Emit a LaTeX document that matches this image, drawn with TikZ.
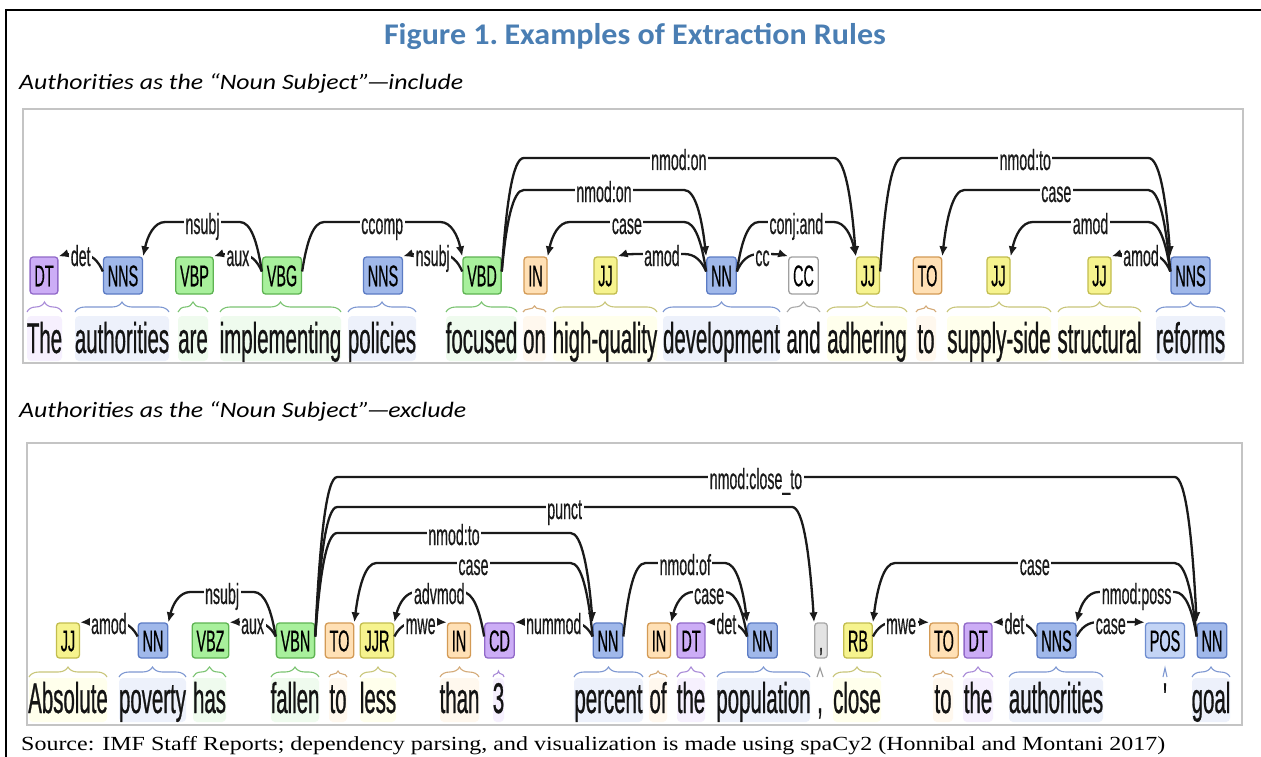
\documentclass[tikz,border=0pt]{standalone}
\usepackage{fontspec}
\usepackage{graphicx}
\usetikzlibrary{arrows.meta,calc,decorations.pathreplacing}

% condensed sans for the parse display
\newfontfamily\wordfont[FakeStretch=0.475,FakeBold=0.6]{Liberation Sans}
\newfontfamily\tagfont[FakeStretch=0.48,FakeBold=0.4]{Liberation Sans}
\newfontfamily\labfont[FakeStretch=0.49,FakeBold=0.4]{Liberation Sans}
\newfontfamily\headfont{Carlito}
\newfontfamily\notefont{Liberation Serif}

\definecolor{titleblue}{HTML}{4A7EB3}
\definecolor{panelgray}{HTML}{C4C4C4}
\definecolor{arcink}{HTML}{1A1A1A}
% part-of-speech colours: tag fill, tag outline, brace, word background
\definecolor{nnfillc}{HTML}{A0B8EA}\definecolor{nnlinec}{HTML}{5B7BC4}\definecolor{nnbrc}{HTML}{7E98D2}\definecolor{nnbgc}{HTML}{EDF1FB}
\definecolor{vbfillc}{HTML}{A8F09C}\definecolor{vblinec}{HTML}{5EB352}\definecolor{vbbrc}{HTML}{7CC472}\definecolor{vbbgc}{HTML}{EFFBEE}
\definecolor{dtfillc}{HTML}{CCADF6}\definecolor{dtlinec}{HTML}{9169C9}\definecolor{dtbrc}{HTML}{A98BD8}\definecolor{dtbgc}{HTML}{F6F0FE}
\definecolor{infillc}{HTML}{FFE0B5}\definecolor{inlinec}{HTML}{D39A55}\definecolor{inbrc}{HTML}{D4AA78}\definecolor{inbgc}{HTML}{FFF8EE}
\definecolor{jjfillc}{HTML}{F6F38E}\definecolor{jjlinec}{HTML}{C2BD4E}\definecolor{jjbrc}{HTML}{C9C67A}\definecolor{jjbgc}{HTML}{FFFFEC}
\definecolor{ccfillc}{HTML}{FFFFFF}\definecolor{cclinec}{HTML}{A0A0A0}\definecolor{ccbrc}{HTML}{A8A8A8}\definecolor{ccbgc}{HTML}{FFFFFF}
\definecolor{pufillc}{HTML}{E3E3E3}\definecolor{pulinec}{HTML}{A8A8A8}\definecolor{pubrc}{HTML}{9A9A9A}\definecolor{pubgc}{HTML}{FFFFFF}
\definecolor{posfillc}{HTML}{C3D4F5}\definecolor{poslinec}{HTML}{6D8CCF}\definecolor{posbrc}{HTML}{7E98D2}\definecolor{posbgc}{HTML}{FFFFFF}

% stretch a piece of text horizontally to a given width (in pt)
\newsavebox\fitbox
\newlength\fitlen
\newcommand\fitwidth[2]{\sbox\fitbox{#2}\setlength\fitlen{\wd\fitbox}%
  \pgfmathsetmacro\fitscale{#1/\fitlen}\scalebox{\fitscale}[1]{\usebox\fitbox}}

\tikzset{
  tag/.style={rounded corners=3pt, line width=1.3pt,
    font=\tagfont\fontsize{30}{30}\selectfont, inner xsep=4.3pt, inner ysep=0pt,
    text height=21.5pt, text depth=0pt, text=black},
  word/.style={font=\wordfont\fontsize{43}{43}\selectfont, anchor=base,
    inner sep=0pt, text=black!92},
  deparrow/.style={draw=arcink, line width=2.3pt, -{Latex[length=10pt,width=8.5pt]}},
  deplabel/.style={fill=white, inner xsep=1.5pt, inner ysep=1.5pt,
    font=\labfont\fontsize{29}{29}\selectfont, text=arcink, anchor=base, yshift=-12pt},
  panelframe/.style={draw=panelgray, line width=2pt},
  curly/.style={decorate, decoration={brace, amplitude=10pt}},
  smallcurly/.style={decorate, decoration={brace, amplitude=6pt}},
  caret/.style={to path={-- ($(\tikztostart)!0.5!(\tikztotarget)+(0,9pt)$) -- (\tikztotarget)}},
  nntag/.style={fill=nnfillc, draw=nnlinec}, nnbr/.style={draw=nnbrc, line width=1.1pt}, nnbg/.style={fill=nnbgc},
  vbtag/.style={fill=vbfillc, draw=vblinec}, vbbr/.style={draw=vbbrc, line width=1.1pt}, vbbg/.style={fill=vbbgc},
  dttag/.style={fill=dtfillc, draw=dtlinec}, dtbr/.style={draw=dtbrc, line width=1.1pt}, dtbg/.style={fill=dtbgc},
  intag/.style={fill=infillc, draw=inlinec}, inbr/.style={draw=inbrc, line width=1.1pt}, inbg/.style={fill=inbgc},
  jjtag/.style={fill=jjfillc, draw=jjlinec}, jjbr/.style={draw=jjbrc, line width=1.1pt}, jjbg/.style={fill=jjbgc},
  cctag/.style={fill=ccfillc, draw=cclinec}, ccbr/.style={draw=ccbrc, line width=1.1pt}, ccbg/.style={fill=ccbgc},
  putag/.style={fill=pufillc, draw=pulinec}, pubr/.style={draw=pubrc, line width=1.1pt}, pubg/.style={fill=pubgc},
  postag/.style={fill=posfillc, draw=poslinec}, posbr/.style={draw=posbrc, line width=1.1pt}, posbg/.style={fill=posbgc},
}

% token of the first sentence: [brace] name, tag x, tag, class, chunk left, chunk right, word
\newcommand\tokA[8][curly]{%
  \fill[#5bg, rounded corners=4pt] (#6,316) rectangle (#7,361);
  \draw[#5br,#1] (#6,312) to (#7,312);
  \node[tag,#5tag,minimum height=37pt] (ta#2) at (#3,275.5) {#4};
  \node[word] (wa#2) at ({(#6+#7)/2},353) {#8};
}
% token of the second sentence
\newcommand\tokB[8][curly]{%
  \fill[#5bg, rounded corners=4pt] (#6,678) rectangle (#7,722);
  \draw[#5br,#1] (#6,677) to (#7,677);
  \node[tag,#5tag,minimum height=35pt] (tb#2) at (#3,640.5) {#4};
  \node[word] (wb#2) at ({(#6+#7)/2},713) {#8};
}
% dependency arc: head point, dependent point, level (y), relation
\newcommand\deparc[4]{%
  \draw[deparrow] let \p1=(#1), \p2=(#2),
      \n1={ifthenelse(\x2>\x1,1,-1)}, \n2={-(#3)} in
    (\p1) .. controls ({\x1+(\n1)*4.5pt},{0.6*(\n2)*1pt+0.4*\y1})
                 and ({\x1+(\n1)*11pt},{(\n2)*1pt})
       .. ({\x1+(\n1)*22pt},{(\n2)*1pt})
    -- node[deplabel]{#4} ({\x2-(\n1)*22pt},{(\n2)*1pt})
       .. controls ({\x2-(\n1)*11pt},{(\n2)*1pt})
                and ({\x2-(\n1)*4.5pt},{0.6*(\n2)*1pt+0.4*\y2})
       .. (\p2);}

\begin{document}
\begin{tikzpicture}[x=1pt,y=-1pt]
\useasboundingbox (0,0) rectangle (1261,757);
\fill[white] (0,0) rectangle (1261,757);

% outer frame
\draw[line width=2.4pt] (5,10) -- (1261,10);
\draw[line width=2.4pt] (6,8.8) -- (6,757);

% headings
\node[anchor=base, text=titleblue, inner sep=0pt] (title) at (635,45)
  {\fitwidth{502}{\headfont\bfseries\fontsize{30}{30}\selectfont Figure 1.\kern-3pt{} Examples of Extraction Rules}};
\node[anchor=base west, inner sep=0pt] (headA) at (19,90)
  {\fitwidth{444}{\headfont\itshape\fontsize{22}{22}\selectfont Authorities as the “Noun Subject”\kern-2.5pt—\kern-1.5pt include}};
\node[anchor=base west, inner sep=0pt] (headB) at (19,417)
  {\fitwidth{447}{\headfont\itshape\fontsize{22}{22}\selectfont Authorities as the “Noun Subject”\kern-2.5pt—\kern-1.5pt exclude}};
\node[anchor=base west, inner sep=0pt] (source) at (21,750)
  {\fitwidth{1144}{\notefont\fontsize{20}{20}\selectfont Source: IMF Staff Reports; dependency parsing, and visualization is made using spaCy2 (Honnibal and Montani 2017)}};

% panels
\draw[panelframe] (23,109) rectangle (1243,363);
\draw[panelframe] (27,443) rectangle (1242,725);

% ---- sentence 1
\tokA{1}{44}{DT}{dt}{27}{62}{The}
\tokA{2}{123}{NNS}{nn}{75}{169}{authorities}
\tokA{3}{194.5}{VBP}{vb}{178}{208}{are}
\tokA{4}{282}{VBG}{vb}{220}{341}{implementing}
\tokA{5}{383}{NNS}{nn}{348}{416}{policies}
\tokA{6}{482}{VBD}{vb}{446}{517}{focused}
\tokA[smallcurly]{7}{535.5}{IN}{in}{523}{546}{on}
\tokA{8}{605.5}{JJ}{jj}{553}{657}{high-quality}
\tokA{9}{721.5}{NN}{nn}{663}{780}{development}
\tokA{10}{803.5}{CC}{cc}{787}{820}{and}
\tokA{11}{868}{JJ}{jj}{827}{907}{adhering}
\tokA[smallcurly]{12}{927.5}{TO}{in}{916}{936}{to}
\tokA{13}{998.5}{JJ}{jj}{947}{1051}{supply-side}
\tokA{14}{1099.5}{JJ}{jj}{1058}{1141}{structural}
\tokA{15}{1190.5}{NNS}{nn}{1156}{1225}{reforms}

\deparc{[yshift=4pt]ta2.west}{ta1.north east}{254}{det}
\deparc{[yshift=4pt]ta4.west}{ta2.north east}{222}{nsubj}
\deparc{[yshift=4pt]ta4.west}{ta3.north east}{254}{aux}
\deparc{[yshift=4pt]ta4.east}{ta6.north west}{222}{ccomp}
\deparc{[yshift=4pt]ta6.west}{ta5.north east}{254}{nsubj}
\deparc{[yshift=4pt]ta6.east}{ta11.north west}{158}{nmod:on}
\deparc{[yshift=4pt]ta6.east}{ta9.north west}{190}{nmod:on}
\deparc{[yshift=4pt]ta9.west}{ta7.north east}{222}{case}
\deparc{[yshift=4pt]ta9.west}{ta8.north east}{254}{amod}
\deparc{[yshift=4pt]ta9.east}{ta10.north west}{254}{cc}
\deparc{[yshift=4pt]ta9.east}{ta11.north west}{222}{conj:and}
\deparc{[yshift=4pt]ta11.east}{ta15.north west}{158}{nmod:to}
\deparc{[yshift=4pt]ta15.west}{ta12.north east}{190}{case}
\deparc{[yshift=4pt]ta15.west}{ta13.north east}{222}{amod}
\deparc{[yshift=4pt]ta15.west}{ta14.north east}{254}{amod}

% ---- sentence 2
\tokB{1}{68}{JJ}{jj}{29}{107}{Absolute}
\tokB{2}{153}{NN}{nn}{119}{186}{poverty}
\tokB{3}{210.5}{VBZ}{vb}{193}{226}{has}
\tokB{4}{295.5}{VBN}{vb}{271}{319}{fallen}
\tokB[smallcurly]{5}{339.5}{TO}{in}{329}{347}{to}
\tokB{6}{377}{JJR}{jj}{360}{396}{less}
\tokB{7}{459}{IN}{in}{440}{479}{than}
\tokB[smallcurly]{8}{499.5}{CD}{dt}{493}{504}{3}
\tokB{9}{608}{NN}{nn}{574}{643}{percent}
\tokB[smallcurly]{10}{659}{IN}{in}{649}{667}{of}
\tokB{11}{691}{DT}{dt}{677}{705}{the}
\tokB{12}{762.5}{NN}{nn}{717}{810}{population}
\tokB[caret]{13}{821}{,}{pu}{817}{823}{,}
\tokB{14}{858}{RB}{jj}{833}{881}{close}
\tokB[smallcurly]{15}{944}{TO}{in}{933}{953}{to}
\tokB{16}{978}{DT}{dt}{963}{993}{the}
\tokB{17}{1056.5}{NNS}{nn}{1009}{1103}{authorities}
\tokB[caret]{18}{1165}{POS}{pos}{1163}{1167}{'}
\tokB{19}{1212}{NN}{nn}{1192}{1230}{goal}

\deparc{[yshift=4pt]tb2.west}{tb1.north east}{622}{amod}
\deparc{[yshift=4pt]tb4.west}{tb2.north east}{592}{nsubj}
\deparc{[yshift=4pt]tb4.west}{tb3.north east}{622}{aux}
\deparc{[yshift=4pt]tb4.east}{tb19.north west}{477}{nmod:close\_to}
\deparc{[yshift=4pt]tb4.east}{tb13.north west}{507}{punct}
\deparc{[yshift=4pt]tb4.east}{tb9.north west}{533}{nmod:to}
\deparc{[yshift=4pt]tb9.west}{tb5.north east}{563}{case}
\deparc{[yshift=4pt]tb8.west}{tb6.north east}{592}{advmod}
\deparc{[yshift=4pt]tb6.east}{tb7.north west}{622}{mwe}
\deparc{[yshift=4pt]tb9.west}{tb8.north east}{622}{nummod}
\deparc{[yshift=4pt]tb9.east}{tb12.north west}{563}{nmod:of}
\deparc{[yshift=4pt]tb12.west}{tb10.north east}{592}{case}
\deparc{[yshift=4pt]tb12.west}{tb11.north east}{622}{det}
\deparc{[yshift=4pt]tb19.west}{tb14.north east}{563}{case}
\deparc{[yshift=4pt]tb14.east}{tb15.north west}{622}{mwe}
\deparc{[yshift=4pt]tb17.west}{tb16.north east}{622}{det}
\deparc{[yshift=4pt]tb19.west}{tb17.north east}{592}{nmod:poss}
\deparc{[yshift=4pt]tb17.east}{tb18.north west}{622}{case}
\end{tikzpicture}
\end{document}
